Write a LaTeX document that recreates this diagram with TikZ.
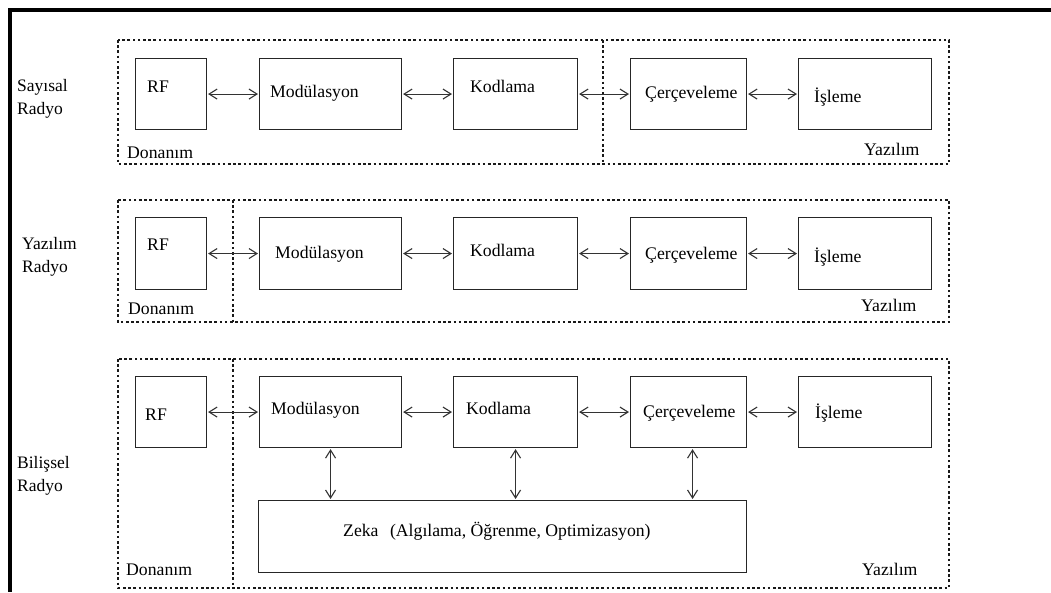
\documentclass[tikz,border=0pt]{standalone}
\usepackage{fontspec}
\setmainfont{Liberation Serif}
\usetikzlibrary{arrows.meta}
% block: name, left, top, right, bottom (pixel-like units, y downwards)
\newcommand\blk[5]{\node[box,anchor=north west,minimum width={(#4)-(#2)},minimum height={(#5)-(#3)}] (#1) at (#2,#3) {};}
\begin{document}
\begin{tikzpicture}[x=1pt,y=-1pt,
  box/.style={draw=black!85,line width=1.1pt,inner sep=0pt,rectangle},
  txt/.style={inner sep=0pt,anchor=west,yshift=-1.5pt,text height=12pt,text depth=3.5pt,font=\fontsize{17.7}{21}\selectfont},
  side/.style={inner sep=0pt,anchor=north west,align=left,font=\fontsize{17.5}{23}\selectfont},
  region/.style={draw=black!90,line width=1.2pt,dash pattern=on 2.6pt off 2.6pt},
  frame/.style={draw=black,line width=3.4pt},
  arr/.style={draw=black!80,line width=1pt,{Straight Barb[length=8pt,width=10pt,line width=1.1pt]}-{Straight Barb[length=8pt,width=10pt,line width=1.1pt]},shorten <=1pt,shorten >=1pt}]
\useasboundingbox (0,0) rectangle (1051,592);
\fill[white] (0,0) rectangle (1051,592);
% outer frame (top and left edges)
\draw[frame] (8.3,10) -- (1051,10);
\draw[frame] (10,8.3) -- (10,592);

% ---------- Sayisal Radyo ----------
\node[side] (l1) at (17,79) {Sayısal\\Radyo};
\draw[region] (118,40) rectangle (949,164);
\draw[region] (603,40) -- (603,164);
\blk{a1}{135}{58}{206}{129}
\blk{a2}{259}{58}{401}{129}
\blk{a3}{453}{58}{577}{129}
\blk{a4}{630}{58}{746}{129}
\blk{a5}{798}{58}{931}{129}
\node[txt] (a1t) at (147,87) {RF};
\node[txt] (a2t) at (270,92) {Modülasyon};
\node[txt] (a3t) at (470,87) {Kodlama};
\node[txt] (a4t) at (645,93) {Çerçeveleme};
\node[txt] (a5t) at (814,97) {İşleme};
\node[txt] (a6t) at (127,153) {Donanım};
\node[txt] (a7t) at (864,150) {Yazılım};
\draw[arr] (a1.east) -- (a2.west);
\draw[arr] (a2.east) -- (a3.west);
\draw[arr] (a3.east) -- (a4.west);
\draw[arr] (a4.east) -- (a5.west);

% ---------- Yazilim Radyo ----------
\node[side] (l2) at (22,237) {Yazılım\\Radyo};
\draw[region] (118,200) rectangle (949,322);
\draw[region] (233,200) -- (233,322);
\blk{b1}{135}{217}{206}{289}
\blk{b2}{259}{217}{401}{289}
\blk{b3}{453}{217}{577}{289}
\blk{b4}{630}{217}{746}{289}
\blk{b5}{798}{217}{931}{289}
\node[txt] (b1t) at (147,245) {RF};
\node[txt] (b2t) at (275,253) {Modülasyon};
\node[txt] (b3t) at (470,251) {Kodlama};
\node[txt] (b4t) at (645,254) {Çerçeveleme};
\node[txt] (b5t) at (814,257) {İşleme};
\node[txt] (b6t) at (128,309) {Donanım};
\node[txt] (b7t) at (861,306) {Yazılım};
\draw[arr] (b1.east) -- (b2.west);
\draw[arr] (b2.east) -- (b3.west);
\draw[arr] (b3.east) -- (b4.west);
\draw[arr] (b4.east) -- (b5.west);

% ---------- Bilissel Radyo ----------
\node[side] (l3) at (17,456) {Bilişsel\\Radyo};
\draw[region] (118,359) rectangle (949,588);
\draw[region] (233,359) -- (233,588);
\blk{c1}{135}{376}{206}{447}
\blk{c2}{259}{376}{401}{447}
\blk{c3}{453}{376}{577}{447}
\blk{c4}{630}{376}{746}{447}
\blk{c5}{798}{376}{931}{447}
\blk{zk}{258}{500}{746}{572}
\node[txt] (c1t) at (145,415) {RF};
\node[txt] (c2t) at (271,409) {Modülasyon};
\node[txt] (c3t) at (466,409) {Kodlama};
\node[txt] (c4t) at (643,412) {Çerçeveleme};
\node[txt] (c5t) at (815,413) {İşleme};
\node[txt] (zkt) at (343,531) {Zeka\hspace{0.65em}(Algılama, Öğrenme, Optimizasyon)};
\node[txt] (c6t) at (126,570) {Donanım};
\node[txt] (c7t) at (862,570) {Yazılım};
\draw[arr] (c1.east) -- (c2.west);
\draw[arr] (c2.east) -- (c3.west);
\draw[arr] (c3.east) -- (c4.west);
\draw[arr] (c4.east) -- (c5.west);
\draw[arr] (c2.south) -- (c2.south |- zk.north);
\draw[arr] (c3.south) -- (c3.south |- zk.north);
\draw[arr] ([xshift=4pt]c4.south) -- ([xshift=4pt]c4.south |- zk.north);
\end{tikzpicture}
\end{document}
